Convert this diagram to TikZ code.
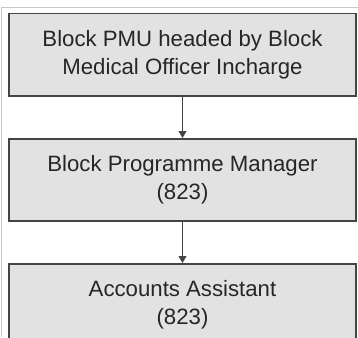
\documentclass[tikz,border=0pt]{standalone}
\usepackage{fontspec}
\setmainfont{Liberation Sans}
\usetikzlibrary{arrows.meta}
\definecolor{boxfill}{HTML}{E2E2E2}
\definecolor{boxline}{HTML}{444444}
\definecolor{framegray}{HTML}{C8C8C8}
\begin{document}
\begin{tikzpicture}[x=1pt,y=-1pt,
  orgbox/.style={draw=boxline, line width=1.5pt, fill=boxfill, rectangle,
    minimum width=347pt, minimum height=82pt, inner sep=0pt, anchor=north,
    align=center, text=black!85, font=\fontsize{22.2}{27.5}\selectfont},
  link/.style={draw=boxline, line width=1pt, -{Triangle[length=7pt,width=8pt]}}]
\useasboundingbox (0,0) rectangle (358,337);
\clip (0,0) rectangle (358,337);
% outer frame
\draw[framegray, line width=1pt] (1.5,337) -- (1.5,8) -- (358,8);
% boxes
\node[orgbox] (pmu) at (182.5,13) {Block PMU headed by Block\\Medical Officer Incharge};
\node[orgbox] (bpm) at (182.5,138) {Block Programme Manager\\(823)};
\node[orgbox] (acc) at (182.5,263) {Accounts Assistant\\(823)};
% connectors
\draw[link] (pmu.south) -- (bpm.north);
\draw[link] (bpm.south) -- (acc.north);
\end{tikzpicture}
\end{document}
